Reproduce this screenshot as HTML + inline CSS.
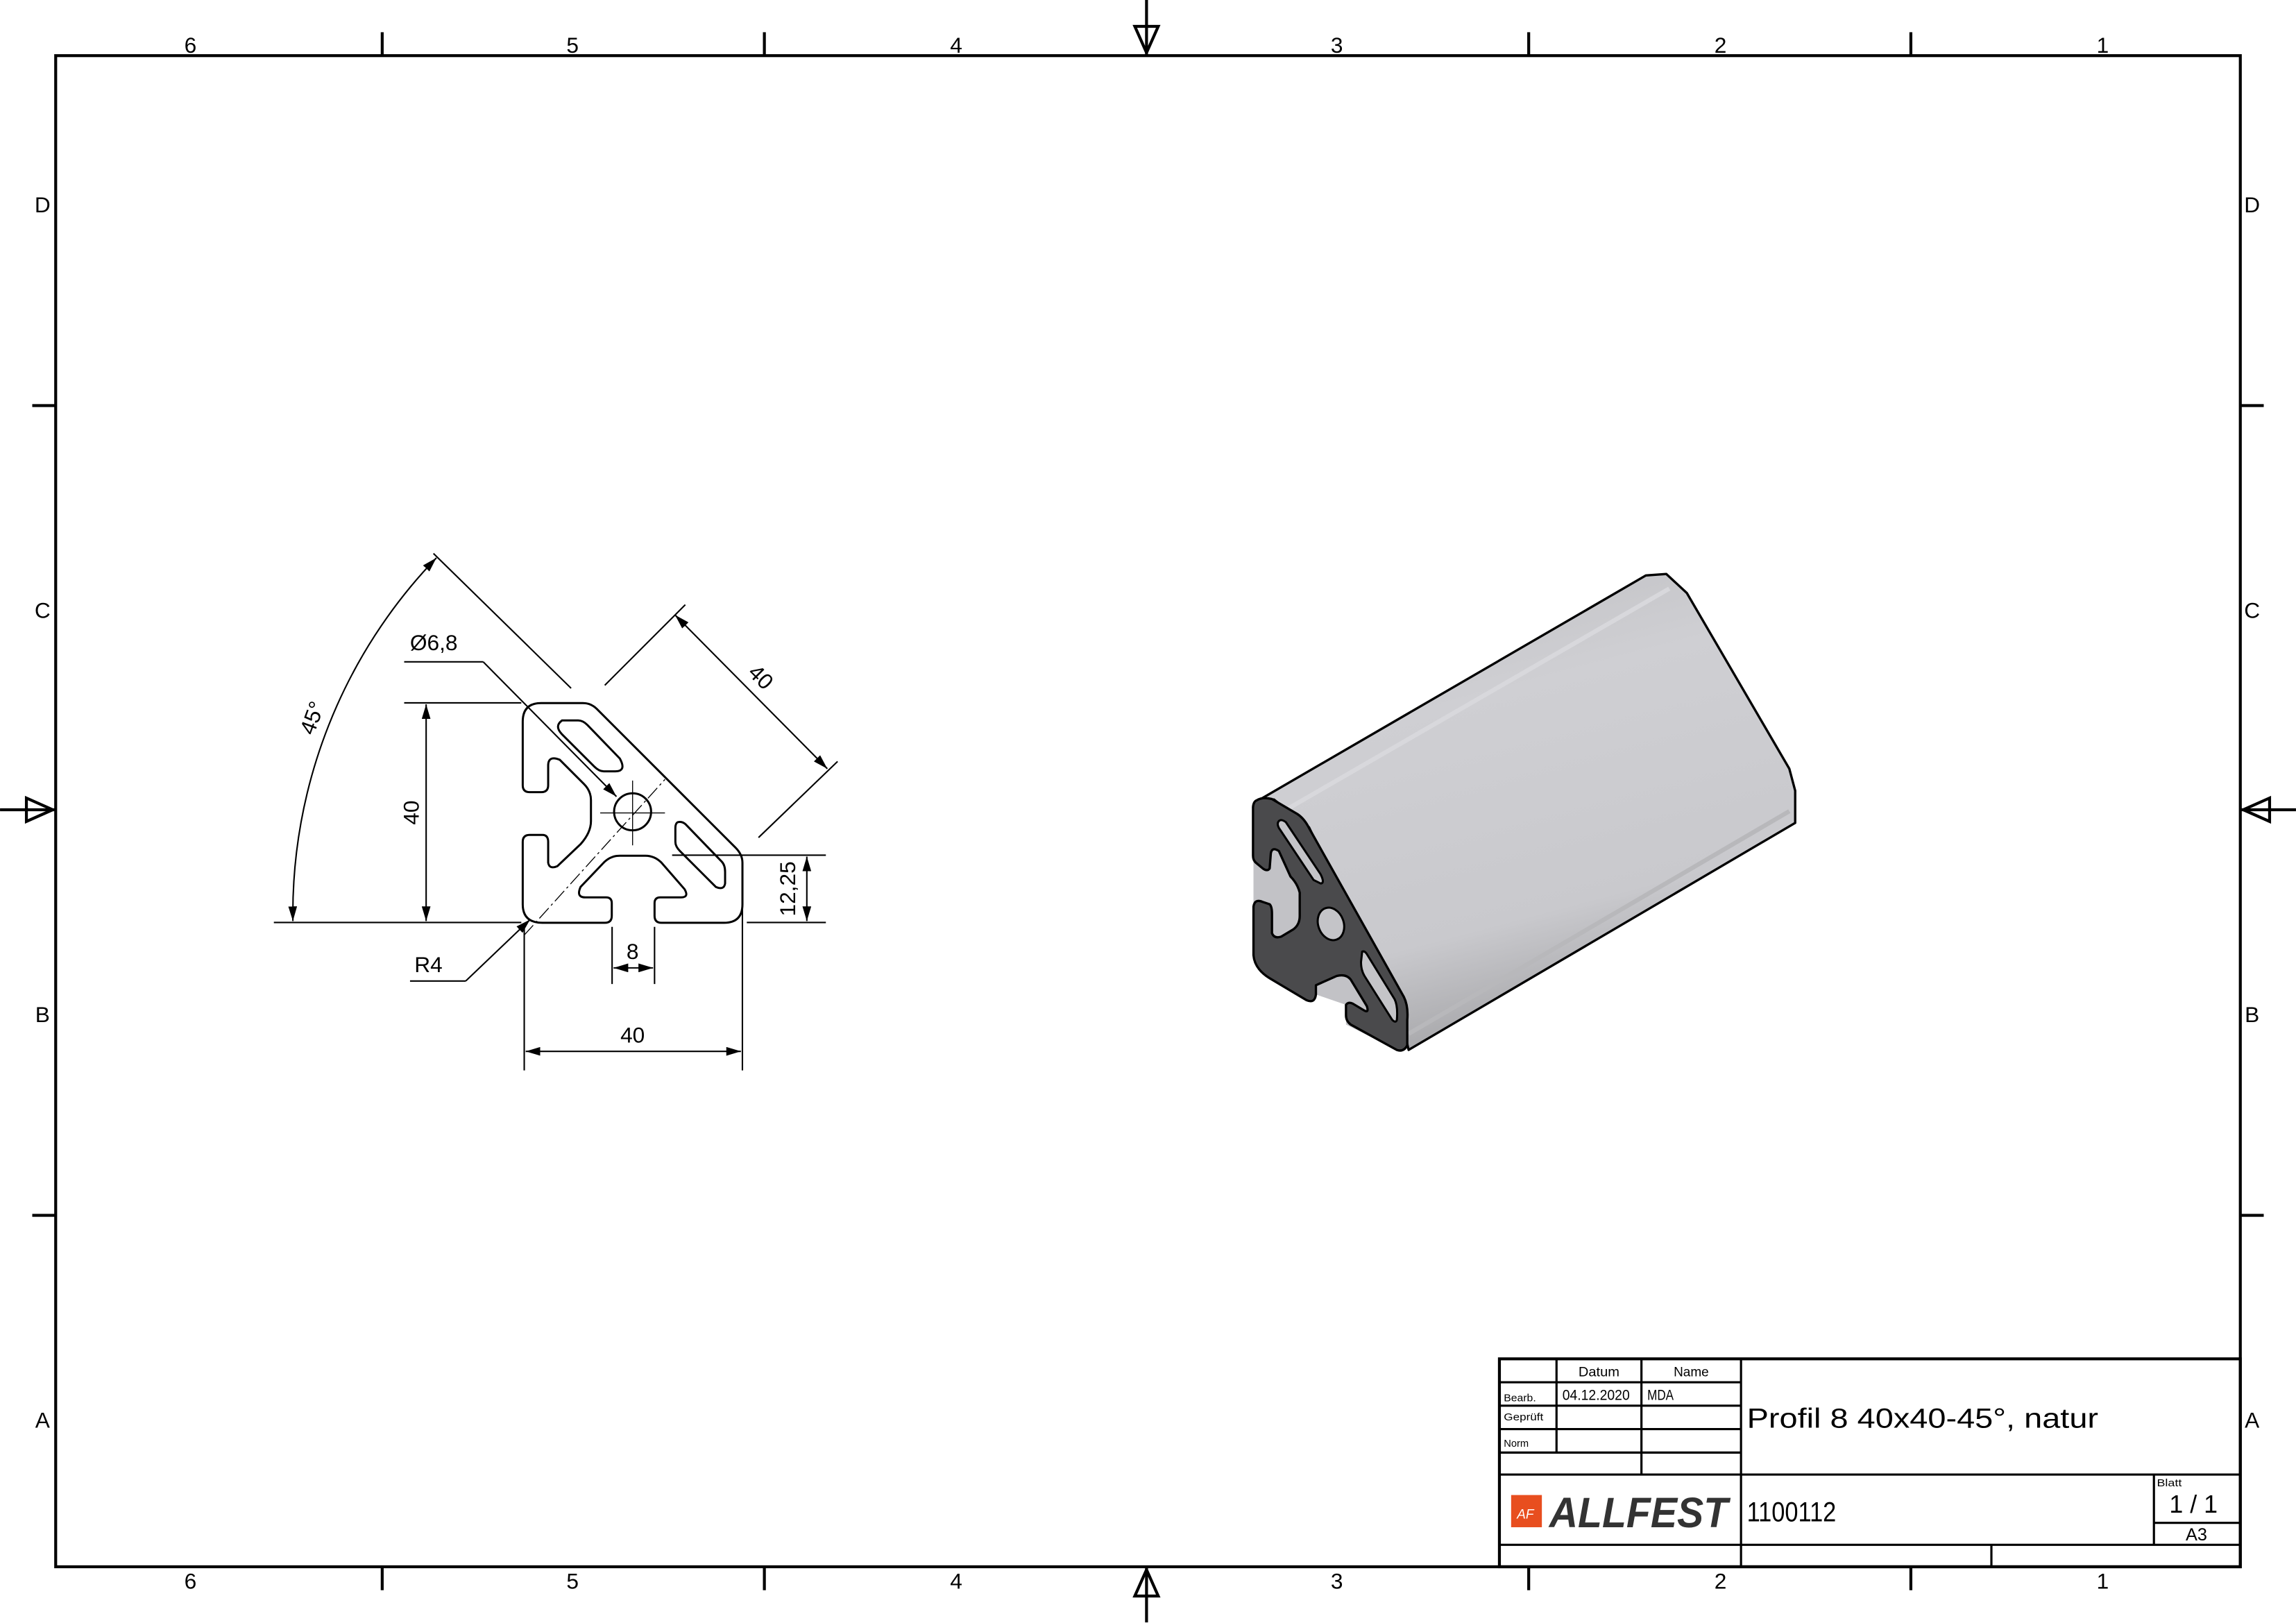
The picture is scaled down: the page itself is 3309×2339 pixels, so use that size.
<!DOCTYPE html>
<html><head><meta charset="utf-8"><style>html,body{margin:0;padding:0;background:#fff}svg{display:block}text{font-family:"Liberation Sans",sans-serif;fill:#000}</style></head><body>
<svg width="3309" height="2339" viewBox="0 0 1568 1108.4" xmlns="http://www.w3.org/2000/svg">
<defs>
<marker id="a" viewBox="0 0 10 6" refX="10" refY="3" markerWidth="10" markerHeight="6" markerUnits="userSpaceOnUse" orient="auto-start-reverse"><path d="M0,0 L10,3 L0,6 Z" fill="#000"/></marker>
<linearGradient id="g" x1="0" y1="0" x2="0.3" y2="1"><stop offset="0" stop-color="#bdbdc0"/><stop offset="0.35" stop-color="#cfcfd3"/><stop offset="0.8" stop-color="#c9c9cd"/><stop offset="1" stop-color="#a9a9ac"/></linearGradient>
</defs>
<rect x="0" y="0" width="1568" height="1108.4" fill="#fff"/>
<rect x="38" y="38" width="1492" height="1032" fill="none" stroke="#000" stroke-width="2"/>
<g stroke="#000" stroke-width="2">
<line x1="261" y1="22" x2="261" y2="38"/><line x1="522" y1="22" x2="522" y2="38"/><line x1="1044" y1="22" x2="1044" y2="38"/><line x1="1305" y1="22" x2="1305" y2="38"/>
<line x1="261" y1="1070" x2="261" y2="1086"/><line x1="522" y1="1070" x2="522" y2="1086"/><line x1="1044" y1="1070" x2="1044" y2="1086"/><line x1="1305" y1="1070" x2="1305" y2="1086"/>
<line x1="22" y1="277" x2="38" y2="277"/><line x1="22" y1="830" x2="38" y2="830"/><line x1="1530" y1="277" x2="1546" y2="277"/><line x1="1530" y1="830" x2="1546" y2="830"/>
<line x1="783" y1="0" x2="783" y2="38"/><line x1="783" y1="1070" x2="783" y2="1108"/><line x1="0" y1="553" x2="38" y2="553"/><line x1="1530" y1="553" x2="1568" y2="553"/>
</g>
<g fill="none" stroke="#000" stroke-width="2">
<polygon points="775,18 791,18 783,36"/><polygon points="775,1090 791,1090 783,1072"/><polygon points="18,545 18,561 36,553"/><polygon points="1550,545 1550,561 1532,553"/>
</g>
<g font-size="15" text-anchor="middle">
<text x="130" y="36">6</text><text x="391" y="36">5</text><text x="653" y="36">4</text><text x="913" y="36">3</text><text x="1175" y="36">2</text><text x="1436" y="36">1</text>
<text x="130" y="1085">6</text><text x="391" y="1085">5</text><text x="653" y="1085">4</text><text x="913" y="1085">3</text><text x="1175" y="1085">2</text><text x="1436" y="1085">1</text>
<text x="29" y="145">D</text><text x="29" y="422">C</text><text x="29" y="698">B</text><text x="29" y="975">A</text>
<text x="1538" y="145">D</text><text x="1538" y="422">C</text><text x="1538" y="698">B</text><text x="1538" y="975">A</text>
</g>

<g transform="translate(331.7,450.15) scale(0.15795)" fill="none" stroke="#000">
<path stroke-width="9" d="M240,190 L420,190 Q455,190 480,215 L1080,815 Q1110,845 1110,880 L1110,1060 Q1110,1140 1030,1140 L760,1140 Q730,1140 730,1110 L730,1055 Q730,1030 755,1030 L845,1030 Q880,1030 860,995 L760,880 Q730,850 690,850 L580,850 Q540,850 510,880 L410,985 Q390,1030 430,1030 L520,1030 Q545,1030 545,1055 L545,1110 Q545,1140 515,1140 L245,1140 Q160,1140 160,1060 L160,790 Q160,760 190,760 L245,760 Q270,760 270,790 L270,880 Q275,910 310,895 L410,800 Q455,750 455,700 L455,610 Q455,570 425,540 L320,435 Q270,415 270,460 L270,545 Q270,575 240,575 L190,575 Q160,575 160,545 L160,270 Q160,190 240,190 Z"/>
<path stroke-width="9" d="M330,265 L400,265 Q420,265 440,285 L580,430 Q610,485 560,485 L510,485 Q490,485 470,465 L330,325 Q295,290 330,265 Z"/>
<path stroke-width="9" d="M830,705 Q850,700 865,715 L1020,875 Q1035,890 1035,920 L1035,970 Q1030,1000 995,985 L840,830 Q820,810 820,790 L820,730 Q820,710 830,705 Z"/>
<circle cx="635" cy="660" r="80" stroke-width="9"/>
<g stroke-width="4"><line x1="495" y1="665" x2="775" y2="665"/><line x1="635" y1="525" x2="635" y2="805"/>
<line x1="165" y1="1195" x2="775" y2="520" stroke-dasharray="60,15,10,15"/></g>
</g>

<g stroke="#000" stroke-width="1" fill="none">
<line x1="187" y1="630" x2="356" y2="630"/>
<line x1="276" y1="480" x2="356" y2="480"/>
<line x1="291" y1="481" x2="291" y2="629" marker-start="url(#a)" marker-end="url(#a)"/>
<path d="M200,629 A350,350 0 0 1 298,381" marker-start="url(#a)" marker-end="url(#a)"/>
<line x1="296" y1="378" x2="390" y2="470"/>
<line x1="413" y1="468" x2="468" y2="413"/>
<line x1="518" y1="572" x2="572" y2="520"/>
<line x1="461" y1="420" x2="565" y2="525" marker-start="url(#a)" marker-end="url(#a)"/>
<line x1="276" y1="452" x2="330" y2="452"/>
<line x1="330" y1="452" x2="421" y2="544" marker-end="url(#a)"/>
<line x1="459" y1="584" x2="564" y2="584"/>
<line x1="510" y1="630" x2="564" y2="630"/>
<line x1="551" y1="585" x2="551" y2="629" marker-start="url(#a)" marker-end="url(#a)"/>
<line x1="358" y1="633" x2="358" y2="731"/><line x1="507" y1="600" x2="507" y2="731"/>
<line x1="359" y1="718" x2="506" y2="718" marker-start="url(#a)" marker-end="url(#a)"/>
<line x1="418" y1="633" x2="418" y2="672"/><line x1="447" y1="633" x2="447" y2="672"/>
<line x1="419" y1="661" x2="446" y2="661" marker-start="url(#a)" marker-end="url(#a)"/>
<line x1="280" y1="670" x2="318" y2="670"/>
<line x1="318" y1="670" x2="362" y2="628" marker-end="url(#a)"/>
</g>
<g font-size="15">
<text x="280" y="444">Ø6,8</text>
<text x="283" y="664">R4</text>
<text x="432" y="712" text-anchor="middle">40</text>
<text x="432" y="655" text-anchor="middle">8</text>
<text transform="translate(286,555) rotate(-90)" text-anchor="middle">40</text>
<text transform="translate(543,607) rotate(-90)" text-anchor="middle">12,25</text>
<text transform="translate(516,466) rotate(45)" text-anchor="middle">40</text>
<text transform="translate(218,492) rotate(-70)" text-anchor="middle">45°</text>
</g>

<polygon points="857,548 1124,393 1138,392 1152,405 1222,525 1226,540 1226,562 962,717 958,700 894,565 870,546" fill="url(#g)" stroke="#000" stroke-width="1.6" stroke-linejoin="round"/>
<line x1="880" y1="552" x2="1140" y2="402" stroke="#d8d8dc" stroke-width="3"/>
<line x1="962" y1="706" x2="1222" y2="554" stroke="#b8b8bb" stroke-width="3"/>
<g transform="translate(843.4,521.2) scale(0.15795)">
<path fill="#c2c2c6" d="M95,160 L160,155 L320,280 L745,1110 L745,1220 L700,1240 L480,1130 L480,1045 L350,1000 L310,1025 L150,930 L80,830 L80,190 Z"/>
<path fill="#4a4a4c" stroke="#000" stroke-width="10" stroke-linejoin="round" d="M95,160 Q120,145 160,155 L270,220 Q300,240 320,280 L730,1010 Q750,1050 745,1110 L745,1220 Q730,1250 700,1240 L500,1130 Q480,1115 480,1090 L480,1045 Q490,1030 510,1040 L560,1070 Q580,1080 570,1050 L500,935 Q480,910 440,920 L350,960 L350,1000 Q345,1040 310,1025 L150,930 Q85,890 80,830 L80,620 Q85,585 120,600 L150,610 Q160,620 160,650 L160,735 Q170,760 200,750 L250,720 Q280,700 280,660 L280,560 Q270,520 240,490 L190,380 Q160,360 155,390 L150,455 Q140,470 120,455 L90,430 Q78,420 78,400 L78,190 Q80,165 95,160 Z"/>
<path fill="#c4c4c8" stroke="#000" stroke-width="9" d="M190,250 Q200,240 220,255 L370,480 Q390,520 370,520 L340,505 L190,280 Q180,260 190,250 Z"/>
<ellipse cx="415" cy="695" rx="55" ry="72" transform="rotate(-20 415 695)" fill="#c4c4c8" stroke="#000" stroke-width="9"/>
<path fill="#c4c4c8" stroke="#000" stroke-width="9" d="M550,815 Q560,810 570,825 L690,1020 Q705,1050 700,1110 Q695,1125 680,1110 L560,920 Q545,895 545,860 Z"/>
</g>

<g stroke="#000" fill="none">
<rect x="1024" y="928" width="506" height="142" stroke-width="2"/>
<g stroke-width="1.5">
<line x1="1024" y1="944" x2="1189" y2="944"/><line x1="1024" y1="960" x2="1189" y2="960"/><line x1="1024" y1="976" x2="1189" y2="976"/><line x1="1024" y1="992" x2="1189" y2="992"/>
<line x1="1024" y1="1007" x2="1530" y2="1007"/><line x1="1024" y1="1055" x2="1530" y2="1055"/><line x1="1471" y1="1040" x2="1530" y2="1040"/>
<line x1="1063" y1="928" x2="1063" y2="992"/><line x1="1121" y1="928" x2="1121" y2="1007"/><line x1="1189" y1="928" x2="1189" y2="1070"/>
<line x1="1471" y1="1007" x2="1471" y2="1055"/><line x1="1360" y1="1055" x2="1360" y2="1070"/>
</g>
</g>
<g font-size="9">
<text x="1092" y="940" text-anchor="middle" textLength="28" lengthAdjust="spacingAndGlyphs">Datum</text>
<text x="1155" y="940" text-anchor="middle" textLength="24" lengthAdjust="spacingAndGlyphs">Name</text>
<text x="1067" y="956" font-size="10" textLength="46" lengthAdjust="spacingAndGlyphs">04.12.2020</text>
<text x="1125" y="956" font-size="10" textLength="18" lengthAdjust="spacingAndGlyphs">MDA</text>
<text x="1027" y="957" font-size="7" textLength="22" lengthAdjust="spacingAndGlyphs">Bearb.</text>
<text x="1027" y="970" font-size="7" textLength="27" lengthAdjust="spacingAndGlyphs">Geprüft</text>
<text x="1027" y="988" font-size="7" textLength="17" lengthAdjust="spacingAndGlyphs">Norm</text>
<text x="1473" y="1015" font-size="7" textLength="17" lengthAdjust="spacingAndGlyphs">Blatt</text>
</g>
<text x="1193" y="975" font-size="19" textLength="240" lengthAdjust="spacingAndGlyphs">Profil 8 40x40-45°, natur</text>
<text x="1193" y="1039" font-size="19" textLength="61" lengthAdjust="spacingAndGlyphs">1100112</text>
<text x="1498" y="1033" font-size="17" text-anchor="middle">1 / 1</text>
<text x="1500" y="1052" font-size="12" text-anchor="middle">A3</text>
<rect x="1032" y="1021" width="21" height="22" fill="#e84e1f"/>
<text x="1036" y="1037" font-size="9" font-style="italic" style="fill:#fff">AF</text>
<text x="1058" y="1043" font-size="29" font-weight="bold" font-style="italic" textLength="122" lengthAdjust="spacingAndGlyphs" style="fill:#333">ALLFEST</text>
</svg>
</body></html>
